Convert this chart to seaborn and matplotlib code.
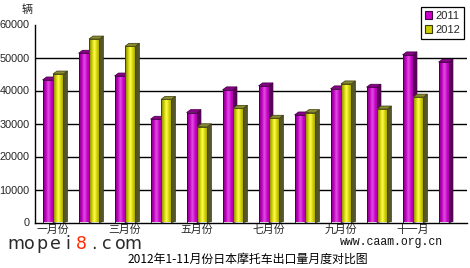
import numpy as np
import pandas as pd
import matplotlib
matplotlib.use("Agg")
import matplotlib.pyplot as plt
from matplotlib.patches import Polygon, Patch
from matplotlib.colors import to_rgb
import seaborn as sns

# ---------------- data ----------------
months = ["一月份", "二月份", "三月份", "四月份", "五月份", "六月份",
          "七月份", "八月份", "九月份", "十月份", "十一月", "十二月"]
tick_labels = ["一月份", "", "三月份", "", "五月份", "", "七月份", "", "九月份", "", "十一月", ""]
years = ["2011", "2012"]
values_2011 = [43200, 51300, 44400, 31300, 33300, 40200, 41400, 32600, 40500, 41000, 50800, 48600]
values_2012 = [45000, 55600, 53400, 37300, 29000, 34600, 31600, 33300, 42000, 34400, 38000, np.nan]
yticks = [0, 10000, 20000, 30000, 40000, 50000, 60000]
title = "2012年1-11月份日本摩托车出口量月度对比图"
unit = "辆"
watermark = "mopei8.com"
source = "www.caam.org.cn"

df = pd.DataFrame({
    "month": months * 2,
    "year": [years[0]] * 12 + [years[1]] * 12,
    "value": values_2011 + values_2012,
})

# ---------------- style ----------------
sns.set_style("white")
plt.rcParams["font.family"] = ["Noto Sans CJK SC", "DejaVu Sans"]

front = {"2011": "#CC00CC", "2012": "#CCCC00"}
grad_cols = {
    "2011": ["#7A007A", "#C000C0", "#E050E0", "#CC00CC", "#A000A0"],
    "2012": ["#7A7A00", "#C8C800", "#FFFF50", "#CCCC00", "#A0A000"],
}
side_col = {"2011": "#5A005A", "2012": "#55552A"}
top_col = {"2011": "#8A008A", "2012": "#8A8A30"}
edge_col = {"2011": "#400040", "2012": "#3A3A10"}

fig = plt.figure(figsize=(4.7, 2.68), dpi=100)
ax = fig.add_axes([35 / 470, 1 - 222.5 / 268, 432 / 470, 198 / 268])

sns.barplot(data=df, x="month", y="value", hue="year", order=months,
            hue_order=years, palette=front, saturation=1, width=0.58,
            dodge=True, legend=False, ax=ax)

dx = 0.11
dy = 900
for ci, yr in enumerate(years):
    cont = ax.containers[ci]
    z = 2 + ci
    cols = np.array([to_rgb(c) for c in grad_cols[yr]])
    xs = np.linspace(0, 1, len(cols))
    xi = np.linspace(0, 1, 40)
    grad = np.stack([np.interp(xi, xs, cols[:, k]) for k in range(3)], axis=-1)[np.newaxis, :, :]
    for bar in cont:
        h = bar.get_height()
        if not np.isfinite(h) or h <= 0:
            continue
        x0 = bar.get_x()
        w = bar.get_width()
        x1 = x0 + w
        side = Polygon([(x1, 0), (x1 + dx, dy * 0.3), (x1 + dx, h + dy), (x1, h)],
                       closed=True, facecolor=side_col[yr], edgecolor=edge_col[yr],
                       linewidth=0.5, zorder=z)
        top = Polygon([(x0, h), (x0 + dx, h + dy), (x1 + dx, h + dy), (x1, h)],
                      closed=True, facecolor=top_col[yr], edgecolor=edge_col[yr],
                      linewidth=0.5, zorder=z)
        ax.add_patch(side)
        ax.add_patch(top)
        im = ax.imshow(grad, extent=[x0, x1, 0, h], aspect="auto",
                       interpolation="bilinear", zorder=z + 0.1)
        im.set_clip_path(bar)
        bar.set_zorder(z + 0.2)
        bar.set_facecolor("none")
        bar.set_edgecolor(edge_col[yr])
        bar.set_linewidth(0.6)

ax.set_aspect("auto")
ax.set_xlim(-0.5, 11.5)
ax.set_ylim(0, 60000)

# grid
ax.set_axisbelow(True)
for v in yticks[1:-1]:
    ax.axhline(v, color="black", linewidth=1.0, zorder=0.5)

ax.set_yticks(yticks)
ax.set_yticklabels([str(v) for v in yticks], fontsize=7.8, family="Liberation Sans")
ax.set_xticks(range(12))
ax.set_xticklabels(tick_labels, fontsize=7.8)
ax.set_xticks(np.arange(-0.5, 12, 1), minor=True)
ax.tick_params(axis="x", which="major", length=0, pad=1.5)
ax.tick_params(axis="x", which="minor", length=3, width=0.8, color="black", direction="out")
ax.tick_params(axis="y", length=3, width=0.8, color="black", direction="out", pad=1)
ax.set_xlabel("")
ax.set_ylabel("")

for s in ["top", "right"]:
    ax.spines[s].set_visible(False)
for s in ["left", "bottom"]:
    ax.spines[s].set_color("black")
    ax.spines[s].set_linewidth(1.0)

# unit label
fig.text(27 / 470, 1 - 10 / 268, unit, fontsize=8, ha="center", va="center")

# legend
handles = [Patch(facecolor=front[y], edgecolor=edge_col[y], linewidth=0.8) for y in years]
leg = ax.legend(handles, years, loc="upper right", bbox_to_anchor=(464 / 470, 1 - 7 / 268),
                bbox_transform=fig.transFigure, frameon=True, fancybox=False,
                framealpha=1, edgecolor="black", handlelength=0.7, handleheight=0.7,
                handletextpad=0.25, labelspacing=0.35, borderpad=0.35, borderaxespad=0,
                prop={"family": "Liberation Sans", "size": 8})
leg.get_frame().set_linewidth(0.9)

# title
fig.text(248 / 470, 1 - 259.5 / 268, title, fontsize=8.6, ha="center", va="center", color="black")

# source
fig.text(340 / 470, 1 - 242 / 268, source, fontsize=8.3, ha="left", va="center",
         family="Liberation Mono", color="#111111")

# watermark, one character per 13 px cell
for i, ch in enumerate(watermark):
    col = "#FF2A00" if ch == "8" else "#2a2a2a"
    fig.text((16 + i * 13) / 470, 1 - 249 / 268, ch, fontsize=12.5, family="DejaVu Sans",
             color=col, ha="center", va="baseline")

fig.savefig("out.png", dpi=100)
